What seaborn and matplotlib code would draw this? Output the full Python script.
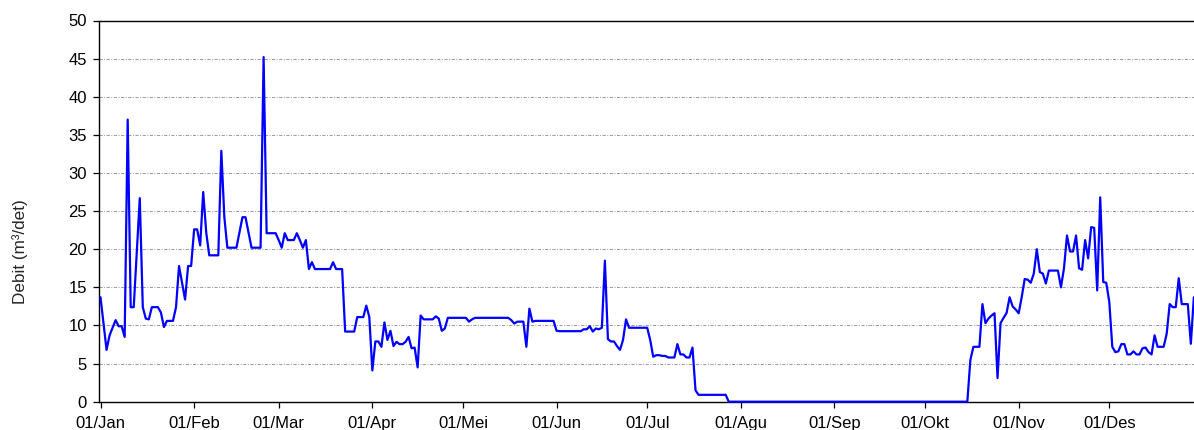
import numpy as np
import pandas as pd
import matplotlib
matplotlib.use("Agg")
import matplotlib.pyplot as plt
import seaborn as sns

# Daily discharge (m3/det), one list per month
jan = [13.7, 10.3, 6.8, 8.7, 9.7, 10.7, 9.9, 9.9, 8.5, 37.0,
       12.4, 12.4, 19.5, 26.7, 12.4, 10.9, 10.8, 12.4, 12.4, 12.4,
       11.7, 9.8, 10.6, 10.6, 10.6, 12.4, 17.8, 15.6, 13.4, 17.8, 17.8]
feb = [22.6, 22.6, 20.5, 27.5, 22.2, 19.2, 19.2, 19.2, 19.2, 32.9,
       24.2, 20.2, 20.2, 20.2, 20.2, 22.2, 24.2, 24.2, 22.2, 20.2,
       20.2, 20.2, 20.2, 45.2, 22.1, 22.1, 22.1, 22.1]
mar = [21.2, 20.2, 22.1, 21.2, 21.2, 21.2, 22.1, 21.2, 20.2, 21.2,
       17.4, 18.3, 17.4, 17.4, 17.4, 17.4, 17.4, 17.4, 18.3, 17.4,
       17.4, 17.4, 9.2, 9.2, 9.2, 9.2, 11.1, 11.1, 11.1, 12.6, 11.1]
apr = [4.1, 7.9, 7.9, 7.2, 10.4, 8.1, 9.3, 7.3, 7.85, 7.55,
       7.55, 7.85, 8.5, 7.0, 7.1, 4.5, 11.3, 10.8, 10.8, 10.8,
       10.8, 11.2, 10.9, 9.3, 9.6, 11.0, 11.0, 11.0, 11.0, 11.0]
mei = [11.0, 11.0, 10.5, 10.8, 11.0, 11.0, 11.0, 11.0, 11.0, 11.0,
       11.0, 11.0, 11.0, 11.0, 11.0, 11.0, 10.7, 10.25, 10.5, 10.5,
       10.5, 7.2, 12.2, 10.5, 10.6, 10.6, 10.6, 10.6, 10.6, 10.6, 10.6]
jun = [9.3, 9.25, 9.25, 9.25, 9.25, 9.25, 9.25, 9.25, 9.25, 9.5,
       9.5, 9.9, 9.2, 9.6, 9.5, 9.7, 18.5, 8.2, 7.9, 7.9,
       7.3, 6.8, 8.1, 10.8, 9.7, 9.7, 9.7, 9.7, 9.7, 9.7]
jul = [9.7, 8.1, 5.9, 6.1, 6.1, 6.0, 6.0, 5.8, 5.8, 5.8,
       7.55, 6.2, 6.2, 5.8, 5.8, 7.1, 1.5, 0.9, 0.9, 0.9,
       0.9, 0.9, 0.9, 0.9, 0.9, 0.9, 0.9, 0.0, 0.0, 0.0, 0.0]
agu = [0.0] * 31
sep = [0.0] * 30
okt = [0.0, 0.0, 0.0, 0.0, 0.0, 0.0, 0.0, 0.0, 0.0, 0.0,
       0.0, 0.0, 0.0, 0.0, 0.0, 5.45, 7.2, 7.2, 7.2, 12.8,
       10.3, 10.9, 11.3, 11.6, 3.1, 10.3, 11.0, 11.65, 13.7, 12.5, 12.1]
nov = [11.6, 13.7, 16.1, 16.0, 15.6, 16.8, 20.0, 17.0, 16.8, 15.5,
       17.2, 17.2, 17.2, 17.2, 15.0, 17.5, 21.8, 19.7, 19.7, 21.8,
       17.5, 17.3, 21.2, 18.8, 22.9, 22.8, 14.6, 26.8, 15.7, 15.6]
des = [13.1, 7.2, 6.5, 6.6, 7.55, 7.55, 6.2, 6.2, 6.6, 6.2,
       6.2, 7.0, 7.1, 6.5, 6.2, 8.7, 7.2, 7.2, 7.2, 8.9,
       12.8, 12.4, 12.4, 16.2, 12.8, 12.8, 12.8, 7.6, 13.7]

month_labels = ["01/Jan", "01/Feb", "01/Mar", "01/Apr", "01/Mei", "01/Jun",
                "01/Jul", "01/Agu", "01/Sep", "01/Okt", "01/Nov", "01/Des"]
y_ticks = [0, 5, 10, 15, 20, 25, 30, 35, 40, 45, 50]
y_label = "Debit (m\u00b3/det)"

months = [jan, feb, mar, apr, mei, jun, jul, agu, sep, okt, nov, des]
debit = np.concatenate([np.asarray(m, dtype=float) for m in months])
day = np.arange(len(debit))
month_starts = np.concatenate([[0], np.cumsum([len(m) for m in months[:-1]])])
df = pd.DataFrame({"day": day, "debit": debit})

sns.set_style("white")
plt.rcParams['font.family'] = ['Liberation Sans', 'DejaVu Sans']

W, H = 1194, 430
fig = plt.figure(figsize=(W / 100, H / 100), dpi=100)
left, right, top, bottom = 99.3, 1194, 20.5, 401.7
ax = fig.add_axes([left / W, 1 - bottom / H, (right - left) / W, (bottom - top) / H])

sns.lineplot(data=df, x="day", y="debit", ax=ax, color="#0000ff",
             linewidth=1.6, clip_on=False, zorder=5)

ax.set_xlim(-0.4, 362.05)
ax.set_ylim(0, 50)
ax.set_xticks(month_starts)
ax.set_xticklabels(month_labels)
ax.set_yticks(y_ticks)
ax.set_yticklabels([str(v) for v in y_ticks])
ax.set_xlabel("")
ax.set_ylabel(y_label, fontsize=12.3)
ax.yaxis.set_label_coords(-0.065, 0.393)

for yv in y_ticks[1:-1]:
    ax.axhline(yv, color="#9c9c9c", linewidth=0.75,
               linestyle=(0, (3, 1.5, 0.9, 1.5)), zorder=1)

for s in ["left", "bottom", "top"]:
    ax.spines[s].set_visible(True)
    ax.spines[s].set_color("black")
    ax.spines[s].set_linewidth(1.0)
ax.spines["right"].set_visible(False)

ax.tick_params(axis="both", which="major", direction="out", length=4,
               width=0.9, color="black", labelsize=12, labelcolor="black",
               left=True, bottom=True, top=False, right=False)
ax.tick_params(axis="y", pad=5)
ax.tick_params(axis="x", pad=6)
ax.grid(False)

fig.savefig("out.png", dpi=100)
